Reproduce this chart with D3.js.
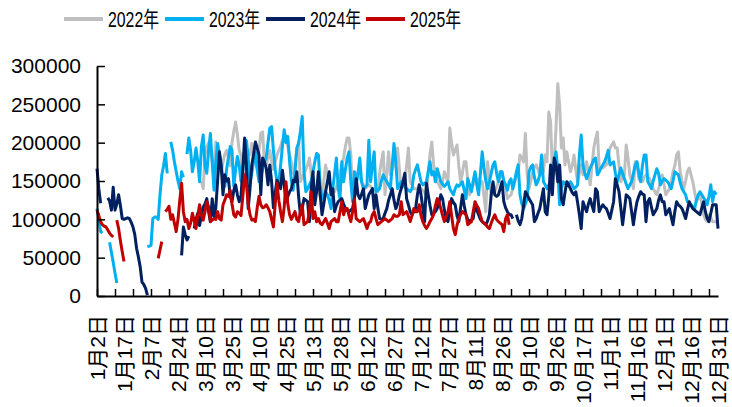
<!DOCTYPE html>
<html>
<head>
<meta charset="utf-8">
<script src="https://cdn.jsdelivr.net/npm/d3@7"></script>
<style>
  body { margin: 0; background: #fff; }
  svg { display: block; font-family: "Liberation Sans", Arial, "Noto Sans CJK SC", sans-serif; }
</style>
</head>
<body>
<div id="chart"></div>
<script>
// ----------------------
// Data
// ----------------------
// category axis: calendar days (2024 calendar) with holiday days left out
const skipDays = ["1-28", "1-29", "1-30", "1-31", "2-1", "2-2", "2-10", "2-11", "4-4",
    "5-1", "5-2", "5-3", "9-17", "10-1", "10-2", "10-3", "10-4", "10-5", "10-6"];

const tickLabels = ["1月2日", "1月17日", "2月7日", "2月24日", "3月10日", "3月25日", "4月10日", "4月25日",
    "5月13日", "5月28日", "6月12日", "6月27日", "7月12日", "7月27日", "8月11日", "8月26日",
    "9月10日", "9月26日", "10月17日", "11月1日", "11月16日", "12月1日", "12月16日", "12月31日"];

const seriesNames = ["2022年", "2023年", "2024年", "2025年"];
const seriesColors = ["#BFBFBF", "#00B0F0", "#002060", "#C00000"];

const n = null;
const values2022 = [
    n,n,n,n,n,n,n,n,n,n,n,n,n,n,n,
    n,n,n,n,n,n,n,n,n,n,n,n,n,n,n,
    n,n,n,n,n,n,n,n,n,n,n,n,n,n,n,
    n,n,n,n,n,n,n,n,n,n,n,n,n,150000,140000,
    185000,195000,200000,190000,175000,165000,201000,190000,170000,160000,175000,185000,190000,180000,170000,
    200000,215000,227000,210000,190000,184000,132000,150000,170000,190000,184000,199000,185000,175000,165000,
    190000,212000,214000,171000,171000,180000,190000,175000,165000,175000,184000,190000,195000,203000,205000,
    210000,195000,184000,175000,160000,170000,190000,201000,149000,155000,160000,165000,171000,180000,160000,
    132000,135000,138000,140000,130000,123000,150000,171000,158000,150000,140000,138000,136000,142000,149000,
    160000,171000,180000,195000,206000,206000,184000,132000,145000,155000,162000,155000,149000,145000,140000,
    142000,145000,143000,140000,140000,138000,136000,160000,175000,188000,132000,160000,188000,158000,165000,
    171000,180000,193000,165000,140000,145000,149000,170000,193000,149000,145000,140000,140000,140000,140000,
    140000,138000,135000,132000,160000,185000,201000,171000,160000,149000,145000,140000,150000,162000,155000,
    149000,219000,200000,184000,190000,197000,170000,149000,160000,175000,175000,150000,132000,140000,145000,
    150000,153000,151000,150000,149000,130000,110000,175000,150000,132000,134000,136000,142000,149000,155000,
    162000,149000,140000,127000,130000,132000,140000,149000,155000,162000,184000,180000,175000,212000,158000,
    140000,150000,162000,168000,171000,165000,158000,160000,162000,184000,175000,240000,227000,162000,171000,
    219000,277000,249000,193000,206000,171000,188000,175000,162000,170000,184000,165000,149000,160000,171000,
    158000,165000,175000,160000,145000,170000,193000,205000,214000,167000,167000,167000,169000,171000,180000,
    193000,197000,201000,193000,193000,170000,149000,158000,158000,197000,180000,158000,150000,140000,175000,
    175000,153000,150000,149000,155000,158000,155000,153000,147000,140000,136000,132000,140000,149000,158000,
    145000,132000,136000,140000,150000,162000,170000,184000,188000,162000,150000,140000,150000,162000,167000,
    158000,149000,136000,123000,128000,132000,120000,106000,100000,97000,106000,102000,97000,97000,97000,n
];
const values2023 = [
    114000,100000,84000,82000,n,n,n,70000,57000,44000,30000,17000,n,n,n,
    n,n,n,n,n,n,n,n,n,n,n,n,n,64000,65000,
    66000,101000,103000,103000,100000,132000,158000,170000,186000,160000,n,201000,190000,175000,162000,
    150000,140000,162000,155000,n,185000,206000,190000,162000,175000,193000,175000,149000,195000,210000,
    169000,160000,190000,212000,175000,138000,175000,199000,185000,169000,155000,143000,165000,180000,195000,
    190000,143000,165000,182000,170000,150000,165000,185000,203000,180000,147000,160000,175000,188000,165000,
    149000,156000,165000,175000,180000,200000,219000,221000,190000,165000,149000,147000,170000,195000,217000,
    200000,208000,175000,150000,138000,162000,193000,199000,215000,234000,162000,136000,140000,145000,150000,
    162000,175000,186000,184000,145000,127000,130000,136000,132000,125000,114000,140000,160000,180000,140000,
    127000,175000,149000,165000,180000,188000,149000,123000,162000,145000,160000,180000,149000,140000,142000,
    145000,203000,149000,170000,188000,136000,138000,140000,150000,158000,153000,149000,145000,140000,170000,
    199000,175000,140000,145000,149000,145000,142000,140000,138000,136000,140000,158000,165000,171000,160000,
    149000,145000,147000,149000,162000,175000,158000,162000,149000,166000,158000,149000,146000,143000,146000,
    149000,140000,136000,132000,140000,145000,143000,146000,149000,138000,127000,153000,145000,136000,150000,
    162000,145000,132000,160000,188000,167000,150000,140000,149000,160000,171000,175000,160000,149000,162000,
    162000,150000,145000,138000,149000,153000,140000,150000,162000,171000,132000,120000,114000,120000,127000,
    162000,168000,171000,155000,145000,150000,158000,184000,149000,145000,140000,145000,149000,160000,175000,
    188000,165000,119000,140000,149000,147000,145000,147000,149000,145000,140000,142000,145000,184000,210000,
    171000,160000,153000,160000,167000,172000,178000,180000,158000,162000,167000,171000,175000,182000,190000,
    171000,173000,175000,160000,149000,158000,167000,160000,153000,146000,140000,145000,149000,160000,171000,
    175000,160000,149000,170000,184000,184000,149000,145000,140000,150000,158000,166000,160000,145000,150000,
    153000,151000,149000,145000,140000,150000,162000,160000,158000,148000,140000,136000,132000,123000,121000,
    119000,116000,114000,125000,132000,136000,132000,128000,125000,119000,130000,145000,123000,136000,132000,n
];
const values2024 = [
    166000,140000,121000,n,n,n,128000,124000,112000,142000,112000,120000,132000,118000,101000,
    100000,101000,102000,101000,96000,90000,80000,62000,51000,38000,18000,15000,10000,1000,n,
    n,n,n,n,n,n,n,n,n,n,n,n,n,n,n,
    n,n,53000,90000,80000,73000,78000,n,n,88000,100000,108000,92000,105000,116000,
    120000,127000,110000,97000,127000,104000,115000,150000,188000,170000,132000,158000,150000,153000,130000,
    123000,138000,145000,132000,123000,130000,165000,206000,171000,114000,140000,171000,185000,201000,193000,
    184000,132000,180000,175000,167000,145000,171000,149000,115000,135000,151000,145000,140000,164000,145000,
    123000,130000,136000,140000,151000,149000,162000,130000,106000,114000,127000,125000,123000,97000,140000,
    162000,119000,136000,162000,132000,106000,120000,136000,149000,162000,132000,140000,110000,118000,123000,
    125000,127000,120000,114000,112000,110000,112000,114000,127000,153000,132000,127000,133000,140000,114000,
    123000,132000,136000,140000,114000,132000,115000,101000,100000,101000,108000,114000,125000,132000,140000,
    125000,114000,120000,132000,140000,149000,160000,127000,119000,110000,106000,110000,114000,132000,145000,
    132000,115000,97000,147000,132000,118000,106000,108000,110000,114000,122000,132000,127000,112000,100000,
    97000,112000,127000,122000,119000,105000,97000,115000,132000,118000,106000,100000,97000,99000,101000,
    119000,112000,106000,100000,97000,95000,93000,98000,106000,132000,149000,132000,130000,132000,140000,
    149000,123000,115000,110000,106000,106000,101000,n,106000,98000,93000,101000,118000,136000,132000,
    127000,123000,119000,97000,101000,108000,114000,127000,140000,110000,106000,130000,171000,132000,180000,
    171000,149000,171000,127000,119000,135000,149000,145000,140000,135000,132000,136000,122000,106000,88000,
    123000,116000,110000,120000,127000,118000,110000,140000,136000,110000,115000,119000,116000,114000,108000,
    101000,112000,123000,153000,145000,136000,115000,93000,112000,132000,130000,127000,110000,93000,110000,
    123000,130000,136000,133000,132000,97000,123000,127000,116000,106000,110000,114000,125000,132000,123000,
    123000,106000,110000,114000,103000,93000,110000,123000,119000,117000,114000,108000,101000,112000,123000,
    118000,114000,112000,110000,108000,106000,115000,123000,110000,101000,97000,108000,119000,119000,119000,88000
];
const values2025 = [
    112000,105000,97000,93000,91000,90000,86000,82000,79000,77000,n,99000,88000,72000,58000,
    45000,n,n,n,n,n,n,n,n,n,n,n,n,n,n,
    n,n,n,n,49000,60000,71000,n,110000,113000,117000,100000,106000,95000,84000,
    100000,125000,147000,110000,97000,100000,88000,95000,108000,98000,88000,105000,119000,105000,99000,
    110000,123000,116000,97000,99000,101000,100000,110000,101000,99000,119000,125000,132000,130000,138000,
    120000,106000,103000,110000,108000,105000,130000,158000,147000,120000,106000,99000,100000,97000,115000,
    130000,119000,115000,116000,119000,115000,110000,100000,90000,120000,147000,125000,110000,97000,116000,
    149000,120000,106000,100000,105000,110000,100000,97000,110000,119000,93000,95000,97000,110000,136000,
    101000,110000,97000,101000,95000,93000,97000,101000,95000,88000,97000,99000,101000,97000,97000,
    110000,123000,106000,114000,114000,105000,97000,110000,127000,101000,99000,97000,99000,101000,95000,
    88000,95000,97000,106000,110000,101000,93000,95000,97000,99000,101000,99000,97000,99000,101000,
    106000,104000,104000,106000,123000,106000,108000,110000,104000,97000,105000,114000,110000,110000,119000,
    105000,97000,92000,88000,92000,97000,101000,106000,118000,127000,123000,114000,105000,97000,104000,
    110000,123000,105000,88000,80000,92000,101000,106000,110000,108000,106000,93000,95000,97000,110000,
    123000,118000,114000,105000,97000,95000,93000,90000,88000,95000,101000,106000,100000,97000,95000,
    93000,84000,101000,106000,93000,n,n,n,n,n,n,n,n,n,n,
    n,n,n,n,n,n,n,n,n,n,n,n,n,n,n,
    n,n,n,n,n,n,n,n,n,n,n,n,n,n,n,
    n,n,n,n,n,n,n,n,n,n,n,n,n,n,n,
    n,n,n,n,n,n,n,n,n,n,n,n,n,n,n,
    n,n,n,n,n,n,n,n,n,n,n,n,n,n,n,
    n,n,n,n,n,n,n,n,n,n,n,n,n,n,n,
    n,n,n,n,n,n,n,n,n,n,n,n,n,n,n,n
];
const yTicks = [0, 50000, 100000, 150000, 200000, 250000, 300000];

// build the category list
const categories = [];
for (let d = new Date(2024, 0, 2); d <= new Date(2024, 11, 31); d.setDate(d.getDate() + 1)) {
    const key = (d.getMonth() + 1) + "-" + d.getDate();
    if (skipDays.includes(key)) continue;
    categories.push((d.getMonth() + 1) + "月" + d.getDate() + "日");
}

const allSeries = [values2022, values2023, values2024, values2025];

// ----------------------
// Chart
// ----------------------
const width = 732, height = 407;
const margin = { left: 97, right: 14, top: 66, bottom: 111 };

const svg = d3.select("#chart")
    .append("svg")
    .attr("width", width)
    .attr("height", height);

const x = d3.scalePoint()
    .domain(categories)
    .range([margin.left, width - margin.right]);

const y = d3.scaleLinear()
    .domain([0, 300000])
    .range([height - margin.bottom, margin.top]);

// lines (2022 drawn first, 2025 on top)
const line = d3.line()
    .defined(d => d != null)
    .x((d, i) => x(categories[i]))
    .y(d => y(d));

svg.append("g")
    .selectAll("path")
    .data(allSeries)
    .enter()
    .append("path")
    .attr("d", line)
    .attr("fill", "none")
    .attr("stroke", (d, i) => seriesColors[i])
    .attr("stroke-width", 3)
    .attr("stroke-linejoin", "round");

// y axis, ticks pointing inwards
const yAxis = svg.append("g")
    .attr("transform", `translate(${margin.left},0)`)
    .call(d3.axisLeft(y).tickValues(yTicks).tickFormat(d3.format("d"))
        .tickSizeInner(-8).tickSizeOuter(0).tickPadding(16));

// x axis, a tick every 10 categories, labels added below
const xAxis = svg.append("g")
    .attr("transform", `translate(0,${height - margin.bottom})`)
    .call(d3.axisBottom(x).tickValues(categories.filter((c, i) => i % 10 === 0))
        .tickFormat("").tickSizeInner(-7).tickSizeOuter(0));

[yAxis, xAxis].forEach(ax => {
    ax.select(".domain").attr("stroke", "#000").attr("stroke-width", 2);
    ax.selectAll(".tick line").attr("stroke", "#000").attr("stroke-width", 1.5);
});
yAxis.selectAll(".tick text")
    .attr("font-size", 21)
    .attr("fill", "#000");

// rotated date labels every 15 categories
svg.append("g")
    .selectAll("text")
    .data(tickLabels)
    .enter()
    .append("text")
    .attr("transform", d => `translate(${x(d)},315) rotate(-90)`)
    .attr("text-anchor", "end")
    .attr("dy", "0.36em")
    .attr("font-size", 21)
    .attr("fill", "#000")
    .text(d => d);

// legend
const legendX = [64, 165, 266, 366];
const legend = svg.append("g")
    .selectAll("g")
    .data(seriesNames)
    .enter()
    .append("g")
    .attr("transform", (d, i) => `translate(${legendX[i]},0)`);

legend.append("line")
    .attr("x1", 0).attr("x2", 39)
    .attr("y1", 19).attr("y2", 19)
    .attr("stroke", (d, i) => seriesColors[i])
    .attr("stroke-width", 4);

legend.append("text")
    .attr("x", 44)
    .attr("y", 27)
    .attr("font-size", 22)
    .attr("textLength", 51)
    .attr("lengthAdjust", "spacingAndGlyphs")
    .attr("fill", "#000")
    .text(d => d);
</script>
</body>
</html>
